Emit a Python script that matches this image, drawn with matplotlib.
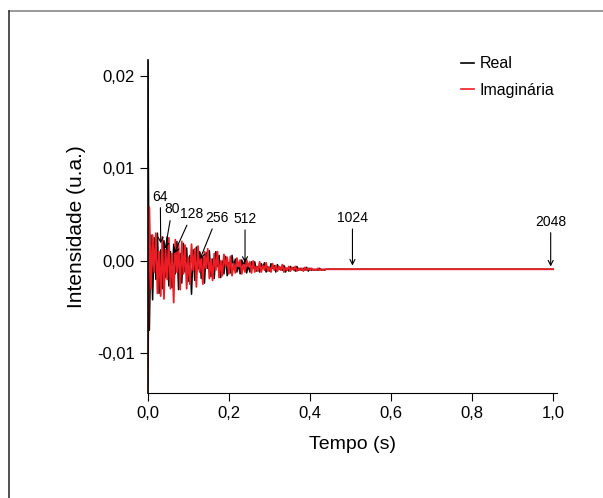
import numpy as np
import matplotlib
matplotlib.use("Agg")
import matplotlib.pyplot as plt
from matplotlib.lines import Line2D

plt.rcParams['font.family'] = ['Liberation Sans', 'DejaVu Sans']

# sampling step of the hand-read extrema (s) and scale of the values below
dt = 0.004
scale = 1e-4

# real part (units of 1e-4)
real_vals = [215, -75, 28, -42, 25, -20, 30, -35, 12, -30,
             22, -18, 26, -27, 10, -29, 18, -14, 21, -31,
             8, -24, 19, -12, 14, -22, 6, -36, 12, -21,
             15, -9, 10, -19, 4, -24, 9, -8, 11, -17,
             2, -19, 10, -6, 6, -18, 0, -14, 5, -16,
             -2, -13, 6, -7, 2, -12, -4, -14, 1, -6,
             2, -13, -5, -12, -1, -8, -1, -11, -6, -12,
             -3, -7, -2, -12, -6, -11, -3, -8, -5, -12,
             -4, -9, -7, -10, -5, -12, -8, -11, -6, -9,
             -7, -11, -6, -10, -8, -10, -8, -10, -7, -11,
             -8, -10, -9, -10, -9, -10, -8, -10, -9, -10, -9]

# imaginary part (units of 1e-4)
imag_vals = [-140, 58, -30, 28, -12, 30, -35, 10, -38, 26,
             -41, 12, -20, 25, -30, 8, -45, 23, -12, 18,
             -31, 21, -14, 17, -30, 4, -25, 18, -10, 13,
             -28, 16, -12, 6, -25, 10, -8, 13, -19, 2,
             -21, 8, -10, 10, -18, 0, -16, 7, -6, 4,
             -14, 5, -16, -3, -13, 3, -6, 1, -14, -4,
             -12, 1, -6, -1, -13, 0, -12, -6, -11, -1,
             -12, -5, -10, -2, -11, -7, -12, -3, -10, -5,
             -11, -6, -10, -4, -12, -7, -10, -6, -11, -7,
             -10, -6, -11, -8, -10, -8, -11, -7, -10, -8,
             -10, -8, -10, -9, -10, -8, -10, -9, -10, -9, -9]

# flat tail
tail_t = [0.6, 0.8, 1.0]
tail_real = [-9, -9, -9]
tail_imag = [-9, -9, -9]

# arrow annotations: label, arrow tip (t, y), label position (t, y)
ann_labels = ['64', '80', '128', '256', '512', '1024', '2048']
ann_tip_t = [0.032, 0.043, 0.065, 0.129, 0.240, 0.505, 0.994]
ann_tip_y = [0.0019, 0.0013, 0.0008, 0.0002, -0.0002, -0.0005, -0.0006]
ann_txt_t = [0.031, 0.060, 0.109, 0.170, 0.240, 0.505, 0.994]
ann_txt_y = [0.0062, 0.0048, 0.0043, 0.0039, 0.0038, 0.0039, 0.0035]

x_ticks = [0.0, 0.2, 0.4, 0.6, 0.8, 1.0]
x_labels = ['0,0', '0,2', '0,4', '0,6', '0,8', '1,0']
y_ticks = [-0.01, 0.0, 0.01, 0.02]
y_labels = ['-0,01', '0,00', '0,01', '0,02']

t = np.concatenate([np.arange(len(real_vals)) * dt, tail_t])
real = np.array(real_vals + tail_real) * scale
imag = np.array(imag_vals + tail_imag) * scale

fig = plt.figure(figsize=(6.03, 4.98), dpi=100)
ax = fig.add_axes([0.245, 0.2114, 0.679, 0.668])

ax.plot(t, real, color='black', lw=1.1, label='Real')
ax.plot(t, imag, color='#ee1c24', lw=1.3, label='Imaginária')

for lab, tx, ty, lx, ly in zip(ann_labels, ann_tip_t, ann_tip_y, ann_txt_t, ann_txt_y):
    ax.annotate(lab, xy=(tx, ty), xytext=(lx, ly), ha='center', va='bottom',
                fontsize=10,
                arrowprops=dict(arrowstyle='->,head_length=0.35,head_width=0.18',
                                color='black', lw=0.8, shrinkA=1, shrinkB=0))

ax.set_xlim(0, 1.01)
ax.set_ylim(-0.01424, 0.0217)
ax.set_xticks(x_ticks)
ax.set_xticklabels(x_labels)
ax.set_yticks(y_ticks)
ax.set_yticklabels(y_labels)
ax.tick_params(direction='out', length=6, width=0.8, labelsize=12)
for s in ['top', 'right']:
    ax.spines[s].set_visible(False)
ax.spines['left'].set_linewidth(1.2)
ax.spines['bottom'].set_linewidth(0.8)

ax.set_xlabel('Tempo (s)', fontsize=14, labelpad=11)
ax.set_ylabel('Intensidade (u.a.)', fontsize=15, labelpad=8)

leg = ax.legend(loc='upper left', bbox_to_anchor=(0.745, 1.035), frameon=False,
                fontsize=11.5, handlelength=0.8, handletextpad=0.4,
                labelspacing=0.7, borderpad=0)
for h in leg.get_lines():
    h.set_linewidth(1.2)

# partial frame round the figure
fig.add_artist(Line2D([9 / 603, 1.0], [1 - 11 / 498, 1 - 11 / 498], color='#888888', lw=1.2))
fig.add_artist(Line2D([9 / 603, 9 / 603], [0.0, 1 - 11 / 498], color='#333333', lw=1.2))

fig.savefig('out.png', dpi=100)
